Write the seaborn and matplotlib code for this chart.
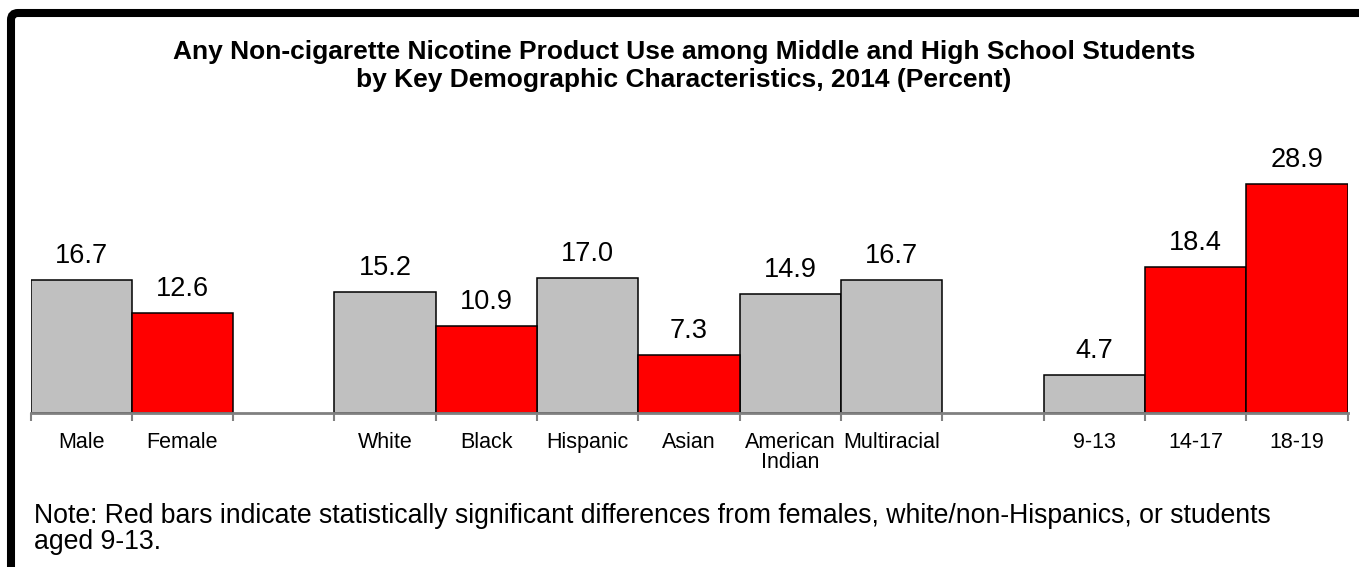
import matplotlib
matplotlib.use("Agg")
import matplotlib.pyplot as plt
from matplotlib.patches import FancyBboxPatch
import numpy as np
import pandas as pd
import seaborn as sns

# Survey categories, grouped by demographic characteristic
categories = ["Male", "Female",
              "White", "Black", "Hispanic", "Asian", "American\nIndian", "Multiracial",
              "9-13", "14-17", "18-19"]
groups = ["Sex", "Sex",
          "Race", "Race", "Race", "Race", "Race", "Race",
          "Age", "Age", "Age"]
percent = [16.7, 12.6,
           15.2, 10.9, 17.0, 7.3, 14.9, 16.7,
           4.7, 18.4, 28.9]
significant = [False, True,
               False, True, False, True, False, False,
               False, True, True]

title = ("Any Non-cigarette Nicotine Product Use among Middle and High School Students\n"
         "by Key Demographic Characteristics, 2014 (Percent)")
note_lines = ["Note: Red bars indicate statistically significant differences from females, "
              "white/non-Hispanics, or students",
              "aged 9-13."]

# Slot positions: one empty slot between demographic groups
positions = []
slot = 0
prev = groups[0]
for g in groups:
    if g != prev:
        slot += 1
        prev = g
    positions.append(slot)
    slot += 1
n_slots = slot

df = pd.DataFrame({
    "pos": positions,
    "percent": percent,
    "flag": ["sig" if s else "ns" for s in significant],
})

sns.set_theme(style="white")
plt.rcParams["font.family"] = ["Liberation Sans", "DejaVu Sans"]

W, H = 1359, 567
fig = plt.figure(figsize=(W / 100, H / 100), dpi=100)

ax_left, ax_right = 30.5, 1347.7
base_y, top_y = 412.5, 158.0
px_per_unit = 7.92
ymax = (base_y - top_y) / px_per_unit
ax = fig.add_axes([ax_left / W, 1 - base_y / H, (ax_right - ax_left) / W, (base_y - top_y) / H])

sns.barplot(data=df, x="pos", y="percent", hue="flag",
            palette={"ns": "#C0C0C0", "sig": "#FF0000"},
            native_scale=True, width=1.0, dodge=False, legend=False,
            edgecolor="black", linewidth=1.1, saturation=1, ax=ax)

for cont in ax.containers:
    ax.bar_label(cont, fmt="%.1f", padding=8, fontsize=19.5, color="black")

ax.set_xlim(-0.5, n_slots - 0.5)
ax.set_ylim(0, ymax)
ax.set_xlabel("")
ax.set_ylabel("")
ax.set_yticks([])

ax.set_xticks(positions)
ax.set_xticklabels(categories, fontsize=15.5, color="black", linespacing=0.95)
ax.set_xticks(np.arange(n_slots + 1) - 0.5, minor=True)
ax.tick_params(axis="x", which="major", length=0, pad=14)
ax.tick_params(axis="x", which="minor", length=6, width=1.5, color="#808080",
               direction="out", bottom=True)

for side in ["top", "right", "left"]:
    ax.spines[side].set_visible(False)
ax.spines["bottom"].set_color("#808080")
ax.spines["bottom"].set_linewidth(2)
ax.patch.set_alpha(0)

fig.text(684 / W, 1 - 66 / H, title, ha="center", va="center",
         fontsize=19, fontweight="bold", color="black", linespacing=1.2)

fig.text(34 / W, 1 - 523 / H, note_lines[0], ha="left", va="baseline",
         fontsize=19.2, color="black")
fig.text(34 / W, 1 - 549 / H, note_lines[1], ha="left", va="baseline",
         fontsize=19.2, color="black")

# Frame: thick black line on the left and top with a rounded corner
frame = FancyBboxPatch((11 / 100, -1.0), (W + 100) / 100, (H - 13) / 100 + 1.0,
                       boxstyle="round,pad=0,rounding_size=0.07",
                       transform=fig.dpi_scale_trans, fill=False,
                       edgecolor="black", linewidth=5.8, clip_on=False)
fig.patches.append(frame)

fig.savefig("out.png", dpi=100)
